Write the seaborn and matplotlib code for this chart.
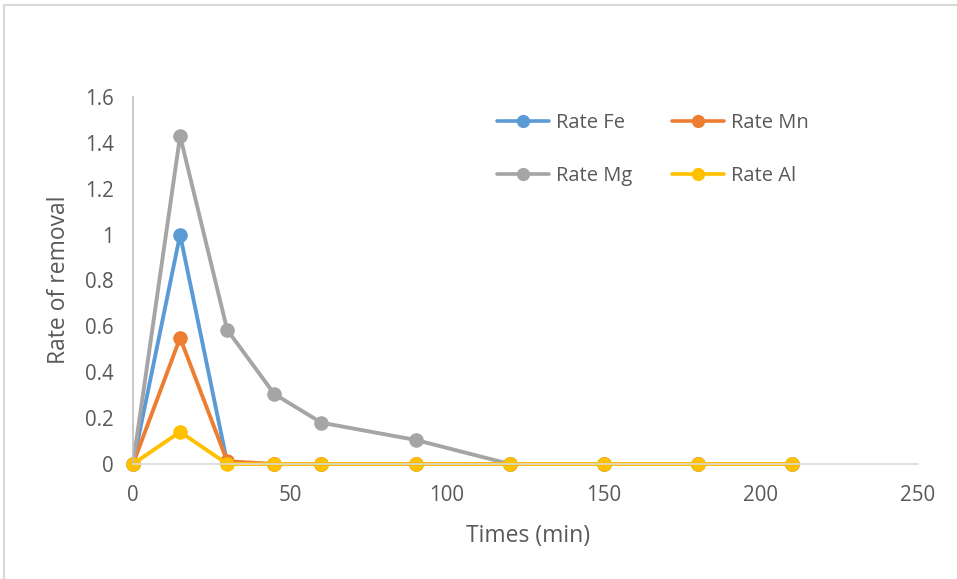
import matplotlib
matplotlib.use("Agg")
import matplotlib.pyplot as plt
import seaborn as sns
import pandas as pd
from matplotlib.patches import Rectangle

# Sampling times (min)
times = [0, 15, 30, 45, 60, 90, 120, 150, 180, 210]

# Removal rate per metal
rate_fe = [0, 1.00, 0.005, 0, 0, 0, 0, 0, 0, 0]
rate_mn = [0, 0.55, 0.012, 0, 0, 0, 0, 0, 0, 0]
rate_mg = [0, 1.43, 0.585, 0.305, 0.18, 0.105, 0, 0, 0, 0]
rate_al = [0, 0.14, 0, 0, 0, 0, 0, 0, 0, 0]

series_names = ["Rate Fe", "Rate Mn", "Rate Mg", "Rate Al"]
series_values = [rate_fe, rate_mn, rate_mg, rate_al]
colors = ["#5B9BD5", "#ED7D31", "#A5A5A5", "#FFC000"]

x_ticks = [0, 50, 100, 150, 200, 250]
y_ticks = [0, 0.2, 0.4, 0.6, 0.8, 1, 1.2, 1.4, 1.6]
y_tick_labels = ["0", "0.2", "0.4", "0.6", "0.8", "1", "1.2", "1.4", "1.6"]

rows = []
for name, vals in zip(series_names, series_values):
    for t, v in zip(times, vals):
        rows.append({"Times (min)": t, "Rate of removal": v, "Series": name})
df = pd.DataFrame(rows)

sns.set_style("white")
plt.rcParams["font.family"] = ["Open Sans", "DejaVu Sans"]
text_color = "#595959"

fig = plt.figure(figsize=(9.57, 5.79), dpi=100)
ax = fig.add_axes([133 / 957, 1 - 464 / 579, (918 - 133) / 957, (464 - 97) / 579])

sns.lineplot(
    data=df, x="Times (min)", y="Rate of removal", hue="Series",
    hue_order=series_names, palette=colors, style="Series",
    markers=["o"] * 4, dashes=False, linewidth=2.8, markersize=10.5,
    markeredgewidth=0, ax=ax, legend=False, sort=False,
)

ax.set_xlim(0, 250)
ax.set_ylim(0, 1.6)
ax.set_xticks(x_ticks)
ax.set_yticks(y_ticks)
ax.set_yticklabels(y_tick_labels)
ax.tick_params(axis="both", length=0, labelsize=14.8, labelcolor=text_color)
ax.tick_params(axis="y", pad=14)
ax.tick_params(axis="x", pad=15)
ax.set_xlabel("Times (min)", fontsize=16.5, color=text_color)
ax.set_ylabel("Rate of removal", fontsize=16.5, color=text_color)
ax.xaxis.set_label_coords((528 - 133) / 785, (464 - 524) / 367)
ax.yaxis.set_label_coords((71 - 133) / 785, (464 - 280) / 367)

for side in ["top", "right"]:
    ax.spines[side].set_visible(False)
ax.spines["left"].set_color("#BFBFBF")
ax.spines["bottom"].set_color("#D9D9D9")
ax.spines["left"].set_linewidth(1.2)
ax.spines["bottom"].set_linewidth(1.2)
for ln in ax.lines:
    ln.set_clip_on(False)

# Legend laid out row by row: Fe, Mn / Mg, Al
handles = [
    plt.Line2D([], [], color=c, marker="o", markersize=9.5, markeredgewidth=0, linewidth=2.6)
    for c in colors
]
order = [0, 2, 1, 3]
leg = ax.legend(
    [handles[i] for i in order], [series_names[i] for i in order],
    ncol=2, frameon=False, loc="upper left",
    bbox_to_anchor=((497 - 133) / 785, 1 - (113 - 97) / 367),
    fontsize=14.5, handlelength=2.6, handletextpad=0.35,
    columnspacing=1.95, labelspacing=1.63, borderaxespad=0, borderpad=0,
)
for t in leg.get_texts():
    t.set_color(text_color)

# Chart area border
fig.patches.append(Rectangle((4 / 957, -0.05), 1.1, 1 - 5 / 579 + 0.05,
                             transform=fig.transFigure, fill=False,
                             edgecolor="#D9D9D9", linewidth=1.5))

fig.savefig("out.png", dpi=100)
